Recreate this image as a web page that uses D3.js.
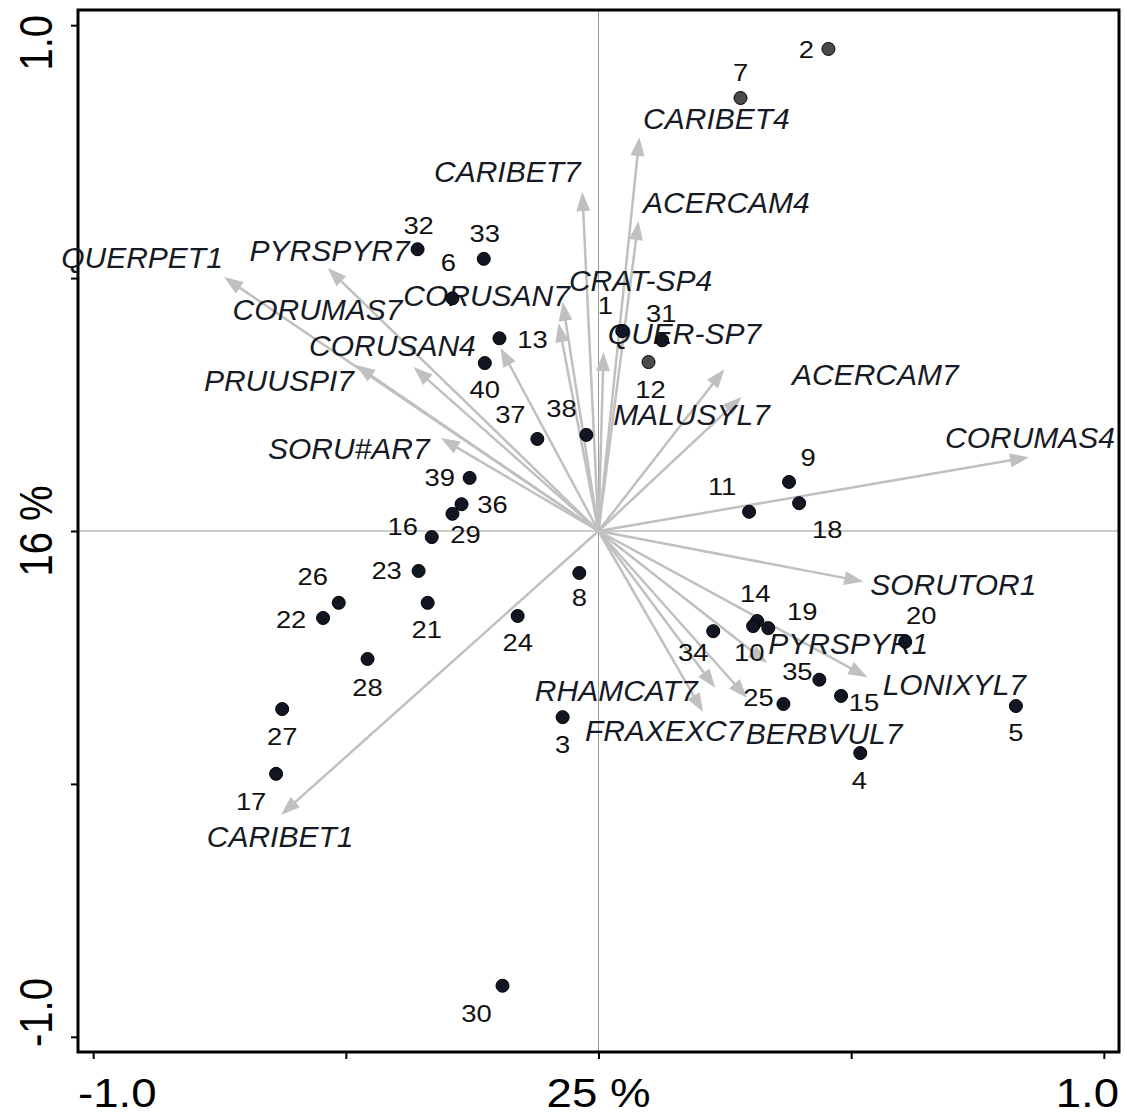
<!DOCTYPE html>
<html>
<head>
<meta charset="utf-8">
<script src="https://cdn.jsdelivr.net/npm/d3@7"></script>
<style>
  html, body { margin: 0; padding: 0; background: #fff; }
  svg { display: block; }
</style>
</head>
<body>
<svg id="chart" width="1125" height="1115"></svg>
<script>
// Ordination biplot: sample scores (dots) and species vectors (arrows)

// Sample scores on axis 1 and axis 2
const sampleIds = [2, 7, 32, 33, 6, 13, 40, 37, 38, 1, 31, 12, 39, 36, 29, 16, 23, 26, 22, 21,
                   8, 24, 28, 27, 17, 3, 30, 9, 11, 18, 14, 10, 19, 34, 20, 35, 15, 25, 5, 4];
const sampleX = [0.455, 0.281, -0.358, -0.227, -0.289, -0.196, -0.225, -0.121, -0.024, 0.047,
                 0.126, 0.099, -0.255, -0.271, -0.289, -0.330, -0.356, -0.514, -0.545, -0.338,
                 -0.038, -0.160, -0.457, -0.626, -0.638, -0.071, -0.190, 0.377, 0.298, 0.397,
                 0.314, 0.306, 0.336, 0.227, 0.607, 0.437, 0.480, 0.366, 0.826, 0.518];
const sampleY = [0.953, 0.856, 0.557, 0.538, 0.460, 0.381, 0.332, 0.182, 0.190, 0.395,
                 0.377, 0.334, 0.105, 0.053, 0.034, -0.012, -0.079, -0.142, -0.172, -0.142,
                 -0.083, -0.168, -0.253, -0.352, -0.480, -0.368, -0.899, 0.097, 0.038, 0.055,
                 -0.178, -0.188, -0.192, -0.198, -0.219, -0.294, -0.326, -0.342, -0.346, -0.439];
// Samples drawn in grey
const passiveSamples = [2, 7, 12];

// Species vector end points
const speciesNames = ["QUERPET1", "PYRSPYR7", "PRUUSPI7", "CORUMAS7", "SORU#AR7", "CORUSAN4",
                      "CORUSAN7", "CRAT-SP4", "QUER-SP7", "CARIBET7", "CARIBET4", "ACERCAM4",
                      "ACERCAM7", "MALUSYL7", "CORUMAS4", "SORUTOR1", "PYRSPYR1", "LONIXYL7",
                      "RHAMCAT7", "BERBVUL7", "FRAXEXC7", "CARIBET1"];
const speciesX = [-0.741, -0.536, -0.480, -0.366, -0.312, -0.194, -0.071, -0.079, 0.010, -0.032,
                  0.081, 0.079, 0.249, 0.283, 0.852, 0.524, 0.334, 0.532, 0.231, 0.294, 0.207, -0.628];
const speciesY = [0.502, 0.520, 0.328, 0.324, 0.184, 0.362, 0.453, 0.411, 0.354, 0.670,
                  0.779, 0.613, 0.320, 0.265, 0.146, -0.100, -0.261, -0.289, -0.310, -0.330, -0.358, -0.561];

// Axis ticks and their labels
const axisTicks = [-1, -0.5, 0, 0.5, 1];
const xTickLabels = ["-1.0", "25 %", "1.0"];
const yTickLabels = ["-1.0", "16 %", "1.0"];
const labelledTicks = [-1, 0, 1];

// Label placement (pixel offsets from the mark)
const speciesLabelOffset = {
  "QUERPET1": [-82, -9], "PYRSPYR7": [2, -7], "PRUUSPI7": [-77, 26], "CORUMAS7": [-96, -47],
  "SORU#AR7": [-92, 21], "CORUSAN4": [-108, 8], "CORUSAN7": [-76, 4], "CRAT-SP4": [82, -32],
  "QUER-SP7": [81, -8], "CARIBET7": [-75, -10], "CARIBET4": [77, -8], "ACERCAM4": [88, -8],
  "ACERCAM7": [151, 16], "MALUSYL7": [-50, 28], "CORUMAS4": [1, -9], "SORUTOR1": [90, 13],
  "PYRSPYR1": [81, -9], "LONIXYL7": [87, 18], "RHAMCAT7": [-99, 13], "BERBVUL7": [77, 46],
  "FRAXEXC7": [-39, 29], "CARIBET1": [-1, 32]
};
const sampleLabelOffset = {
  2: [-22, 9], 7: [0, -17], 32: [1, -15], 33: [1, -17], 6: [-4, -27], 13: [33, 10], 40: [0, 35],
  37: [-27, -16], 38: [-25, -18], 1: [-17, -17], 31: [-1, -18], 12: [2, 36], 39: [-30, 8],
  36: [31, 9], 29: [13, 29], 16: [-29, -2], 23: [-32, 8], 26: [-26, -18], 22: [-32, 10],
  21: [-1, 35], 8: [0, 33], 24: [0, 35], 28: [0, 37], 27: [0, 36], 17: [-25, 36], 3: [0, 36],
  30: [-26, 36], 9: [19, -16], 11: [-27, -17], 18: [28, 35], 14: [-2, -19], 10: [-4, 35],
  19: [34, -8], 34: [-20, 30], 20: [16, -18], 35: [-22, 0], 15: [23, 15], 25: [-25, 2],
  5: [0, 35], 4: [-1, 36]
};

const svg = d3.select("#chart");
const x = d3.scaleLinear().domain([-1.03, 1.03]).range([78, 1119]);
const y = d3.scaleLinear().domain([-1.03, 1.03]).range([1052, 10]);
const stretch = 1.14;
const fontFamily = "'Liberation Sans', Arial, sans-serif";

// Zero lines
svg.append("line").attr("x1", x(0)).attr("x2", x(0)).attr("y1", y(1.03)).attr("y2", y(-1.03))
  .attr("stroke", "#9a9a9a").attr("stroke-width", 1);
svg.append("line").attr("x1", x(-1.03)).attr("x2", x(1.03)).attr("y1", y(0)).attr("y2", y(0))
  .attr("stroke", "#9a9a9a").attr("stroke-width", 1);

// Axes with outward ticks
const xAxis = svg.append("g").attr("transform", `translate(0,${y(-1.03)})`)
  .call(d3.axisBottom(x).tickValues(axisTicks).tickSize(7).tickFormat(""));
const yAxis = svg.append("g").attr("transform", `translate(${x(-1.03)},0)`)
  .call(d3.axisLeft(y).tickValues(axisTicks).tickSize(7).tickFormat(""));
[xAxis, yAxis].forEach(g => {
  g.select(".domain").remove();
  g.selectAll(".tick line").attr("stroke", "#000").attr("stroke-width", 2);
});

// Frame
svg.append("rect").attr("x", x(-1.03)).attr("y", y(1.03))
  .attr("width", x(1.03) - x(-1.03)).attr("height", y(-1.03) - y(1.03))
  .attr("fill", "none").attr("stroke", "#000").attr("stroke-width", 3);

// Tick labels
labelledTicks.forEach((t, i) => {
  const anchor = i === 0 ? "start" : (i === 2 ? "end" : "middle");
  const px = i === 0 ? x(-1.03) : (i === 2 ? x(1.03) : x(t));
  svg.append("text")
    .attr("transform", `translate(${px},1107) scale(${stretch},1)`)
    .attr("text-anchor", anchor)
    .attr("font-family", fontFamily).attr("font-size", 40).attr("fill", "#000")
    .text(xTickLabels[i]);
  const py = i === 0 ? y(-1.03) - 5 : (i === 2 ? y(1.03) + 5 : y(t));
  svg.append("text")
    .attr("transform", `translate(52,${py}) scale(${stretch},1) rotate(-90)`)
    .attr("text-anchor", anchor)
    .attr("font-family", fontFamily).attr("font-size", 40).attr("fill", "#000")
    .text(yTickLabels[i]);
});

// Species arrows
const species = speciesNames.map((n, i) => ({ name: n, x: speciesX[i], y: speciesY[i] }));
const headLen = 19, headHalf = 7;
const arrows = svg.append("g");
species.forEach(s => {
  const x0 = x(0), y0 = y(0), x1 = x(s.x), y1 = y(s.y);
  const len = Math.hypot(x1 - x0, y1 - y0);
  const ux = (x1 - x0) / len, uy = (y1 - y0) / len;
  const bx = x1 - ux * headLen, by = y1 - uy * headLen;
  arrows.append("line").attr("x1", x0).attr("y1", y0).attr("x2", bx + ux * 2).attr("y2", by + uy * 2)
    .attr("stroke", "#c0c0c0").attr("stroke-width", 2.5);
  arrows.append("polygon")
    .attr("points", [[x1, y1], [bx - uy * headHalf, by + ux * headHalf], [bx + uy * headHalf, by - ux * headHalf]]
      .map(p => p.join(",")).join(" "))
    .attr("fill", "#c0c0c0");
});

// Species labels
svg.append("g").selectAll("text").data(species).join("text")
  .attr("x", d => x(d.x) + speciesLabelOffset[d.name][0])
  .attr("y", d => y(d.y) + speciesLabelOffset[d.name][1])
  .attr("text-anchor", "middle")
  .attr("font-family", fontFamily).attr("font-style", "italic").attr("font-size", 30)
  .attr("fill", "#161a24")
  .text(d => d.name);

// Samples
const samples = sampleIds.map((id, i) => ({ id, x: sampleX[i], y: sampleY[i] }));
svg.append("g").selectAll("circle").data(samples).join("circle")
  .attr("cx", d => x(d.x)).attr("cy", d => y(d.y)).attr("r", 6.5)
  .attr("fill", d => passiveSamples.includes(d.id) ? "#4a4a4a" : "#121622")
  .attr("stroke", "#000").attr("stroke-width", 1);

svg.append("g").selectAll("text").data(samples).join("text")
  .attr("transform", d => `translate(${x(d.x) + sampleLabelOffset[d.id][0]},${y(d.y) + sampleLabelOffset[d.id][1]}) scale(${stretch},1)`)
  .attr("text-anchor", "middle")
  .attr("font-family", fontFamily).attr("font-size", 24).attr("fill", "#111")
  .text(d => d.id);
</script>
</body>
</html>
